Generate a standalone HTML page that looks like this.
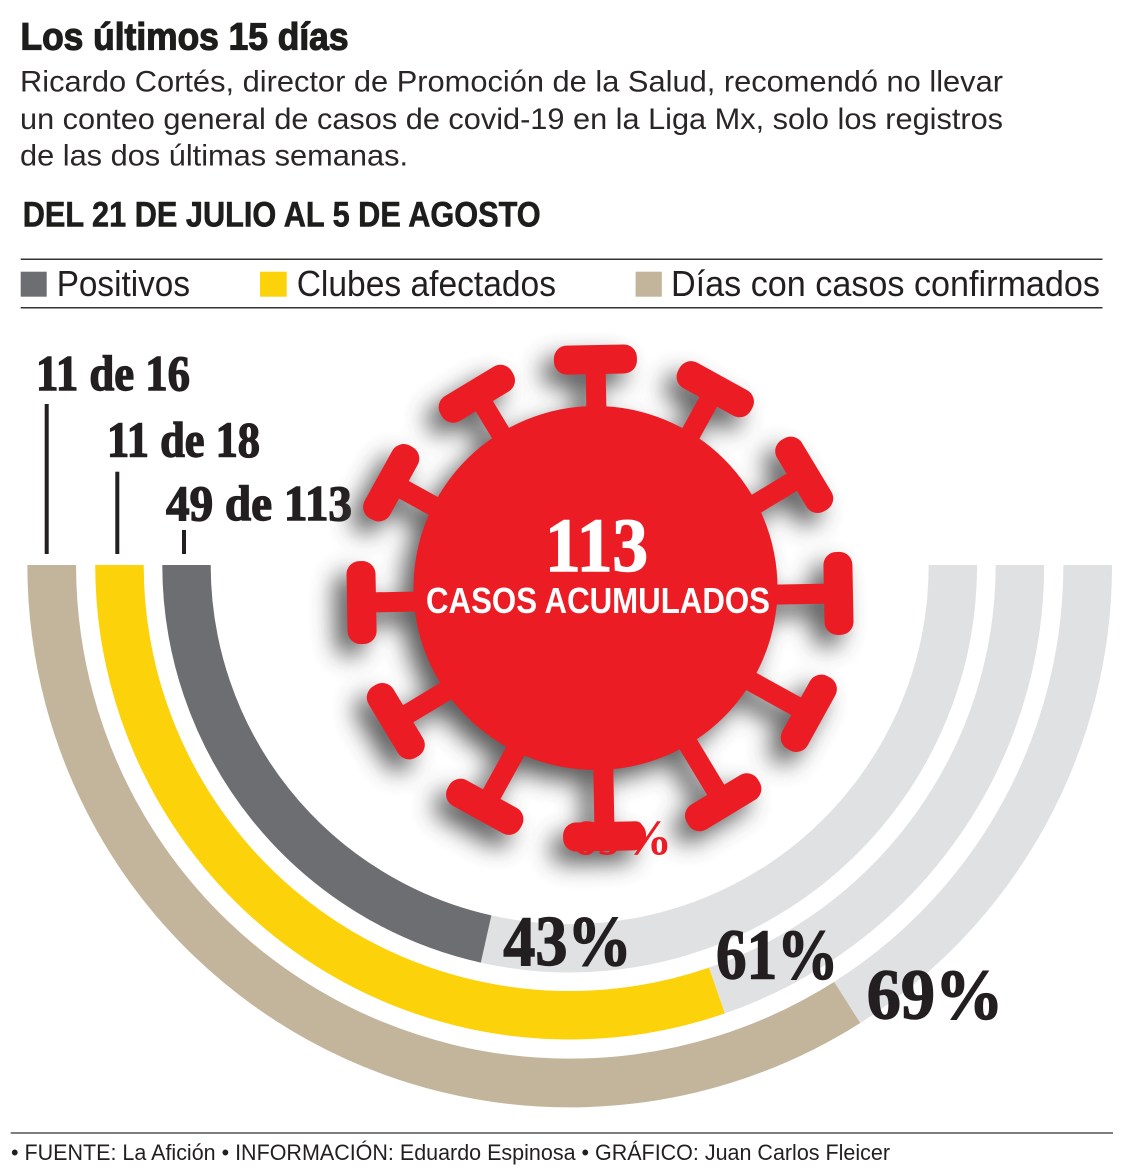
<!DOCTYPE html>
<html><head><meta charset="utf-8"><style>
html,body{margin:0;padding:0;background:#fff;}
svg{display:block;}
</style></head><body>
<svg width="1130" height="1173" viewBox="0 0 1130 1173" xmlns="http://www.w3.org/2000/svg">
<defs>
  <filter id="blur" x="-30%" y="-30%" width="160%" height="160%">
    <feGaussianBlur stdDeviation="12"/>
  </filter>
  <g id="sp">
    <rect x="-10" y="-228" width="20" height="228"/>
    <rect x="-41.5" y="-253" width="83" height="29" rx="13" ry="13"/>
  </g>
  <g id="virus">
    <circle cx="595.5" cy="588" r="182"/>
    <g transform="translate(600,598) rotate(-1.1)">
      <use href="#sp"/>
      <use href="#sp" transform="rotate(30)"/>
      <use href="#sp" transform="rotate(60)"/>
      <use href="#sp" transform="rotate(90)"/>
      <use href="#sp" transform="rotate(120)"/>
      <use href="#sp" transform="rotate(150)"/>
      <use href="#sp" transform="rotate(180)"/>
      <use href="#sp" transform="rotate(210)"/>
      <use href="#sp" transform="rotate(240)"/>
      <use href="#sp" transform="rotate(270)"/>
      <use href="#sp" transform="rotate(300)"/>
      <use href="#sp" transform="rotate(330)"/>
    </g>
  </g>
</defs>

<!-- Header -->
<text x="20.5" y="49.3" font-family="Liberation Sans, sans-serif" font-weight="bold" font-size="38" fill="#1d1d1b" stroke="#1d1d1b" stroke-width="1.2" textLength="328" lengthAdjust="spacingAndGlyphs">Los últimos 15 días</text>
<g font-family="Liberation Sans, sans-serif" font-size="30" fill="#2a2628">
  <text x="20" y="91.7" textLength="983" lengthAdjust="spacingAndGlyphs">Ricardo Cortés, director de Promoción de la Salud, recomendó no llevar</text>
  <text x="20" y="129" textLength="983" lengthAdjust="spacingAndGlyphs">un conteo general de casos de covid-19 en la Liga Mx, solo los registros</text>
  <text x="20" y="165.7" textLength="388" lengthAdjust="spacingAndGlyphs">de las dos últimas semanas.</text>
</g>
<text x="22.7" y="226.7" font-family="Liberation Sans, sans-serif" font-weight="bold" font-size="35" fill="#1d1d1b" stroke="#1d1d1b" stroke-width="0.6" textLength="518" lengthAdjust="spacingAndGlyphs">DEL 21 DE JULIO AL 5 DE AGOSTO</text>

<!-- Legend -->
<line x1="20.7" y1="259.3" x2="1102.5" y2="259.3" stroke="#333" stroke-width="1.5"/>
<line x1="20.7" y1="307.7" x2="1102.5" y2="307.7" stroke="#333" stroke-width="1.5"/>
<rect x="20.7" y="271.7" width="26" height="25" fill="#6d6e71"/>
<rect x="260" y="271.7" width="26.7" height="25" fill="#fcd20a"/>
<rect x="635.6" y="271.7" width="26.2" height="25" fill="#c2b59b"/>
<g font-family="Liberation Sans, sans-serif" font-size="36" fill="#231f20">
  <text x="56.7" y="296" textLength="133.3" lengthAdjust="spacingAndGlyphs">Positivos</text>
  <text x="296.7" y="296" textLength="259.3" lengthAdjust="spacingAndGlyphs">Clubes afectados</text>
  <text x="671" y="296" textLength="429" lengthAdjust="spacingAndGlyphs">Días con casos confirmados</text>
</g>

<!-- Rings: remainder (light gray) -->
<g fill="none" stroke="#e0e1e2">
  <path d="M486.1,939.0 A383.2,383.2 0 0 0 952.9,565" stroke-width="48.4"/>
  <path d="M716.9,990.5 A450.25,450.25 0 0 0 1019.95,565" stroke-width="48.5"/>
  <path d="M847.2,1002.4 A518,518 0 0 0 1087.7,565" stroke-width="48.7"/>
</g>
<!-- Rings: colored portions -->
<g fill="none">
  <path d="M186.5,565 A383.2,383.2 0 0 0 486.1,939.0" stroke="#6d6e71" stroke-width="48.4"/>
  <path d="M119.45,565 A450.25,450.25 0 0 0 716.9,990.5" stroke="#fcd20a" stroke-width="48.5"/>
  <path d="M51.7,565 A518,518 0 0 0 847.2,1002.4" stroke="#c2b59b" stroke-width="48.7"/>
</g>

<!-- Leader lines -->
<rect x="44.7" y="404" width="4" height="150" fill="#231f20"/>
<rect x="115.3" y="471.7" width="4" height="82.3" fill="#231f20"/>
<rect x="182" y="530" width="4" height="24" fill="#231f20"/>

<!-- Labels -->
<g font-family="Liberation Serif, serif" font-weight="bold" fill="#231f20" stroke="#231f20" stroke-width="1.4">
  <text x="36" y="390" font-size="50" textLength="154" lengthAdjust="spacingAndGlyphs">11 de 16</text>
  <text x="107" y="456.7" font-size="50" textLength="153" lengthAdjust="spacingAndGlyphs">11 de 18</text>
  <text x="166" y="520" font-size="50" textLength="186" lengthAdjust="spacingAndGlyphs">49 de 113</text>
  <text x="503.3" y="965" font-size="71" textLength="128.4" lengthAdjust="spacingAndGlyphs">43%</text>
  <text x="716" y="978.3" font-size="71" textLength="122.3" lengthAdjust="spacingAndGlyphs">61%</text>
  <text x="866.7" y="1018.3" font-size="71" textLength="136.6" lengthAdjust="spacingAndGlyphs">69%</text>
</g>

<!-- Virus shadow -->
<use href="#virus" fill="#4a4a4a" opacity="0.9" transform="translate(-12,12)" filter="url(#blur)"/>
<!-- hidden red label -->
<text x="572" y="854" font-family="Liberation Serif, serif" font-weight="bold" font-size="50" fill="#ec1c24" textLength="100" lengthAdjust="spacingAndGlyphs">69%</text>
<!-- Virus -->
<use href="#virus" fill="#ec1c24"/>

<text x="545" y="571" font-family="Liberation Serif, serif" font-weight="bold" font-size="76" fill="#fff" stroke="#fff" stroke-width="1.5" textLength="103" lengthAdjust="spacingAndGlyphs">113</text>
<text x="426" y="613" font-family="Liberation Sans, sans-serif" font-weight="bold" font-size="36" fill="#fff" textLength="344" lengthAdjust="spacingAndGlyphs">CASOS ACUMULADOS</text>

<!-- Footer -->
<line x1="10.7" y1="1133" x2="1113" y2="1133" stroke="#555" stroke-width="1.5"/>
<text x="11" y="1160" font-family="Liberation Sans, sans-serif" font-size="22" fill="#231f20" textLength="879" lengthAdjust="spacingAndGlyphs">• FUENTE: La Afición • INFORMACIÓN: Eduardo Espinosa • GRÁFICO: Juan Carlos Fleicer</text>
</svg>
</body></html>
